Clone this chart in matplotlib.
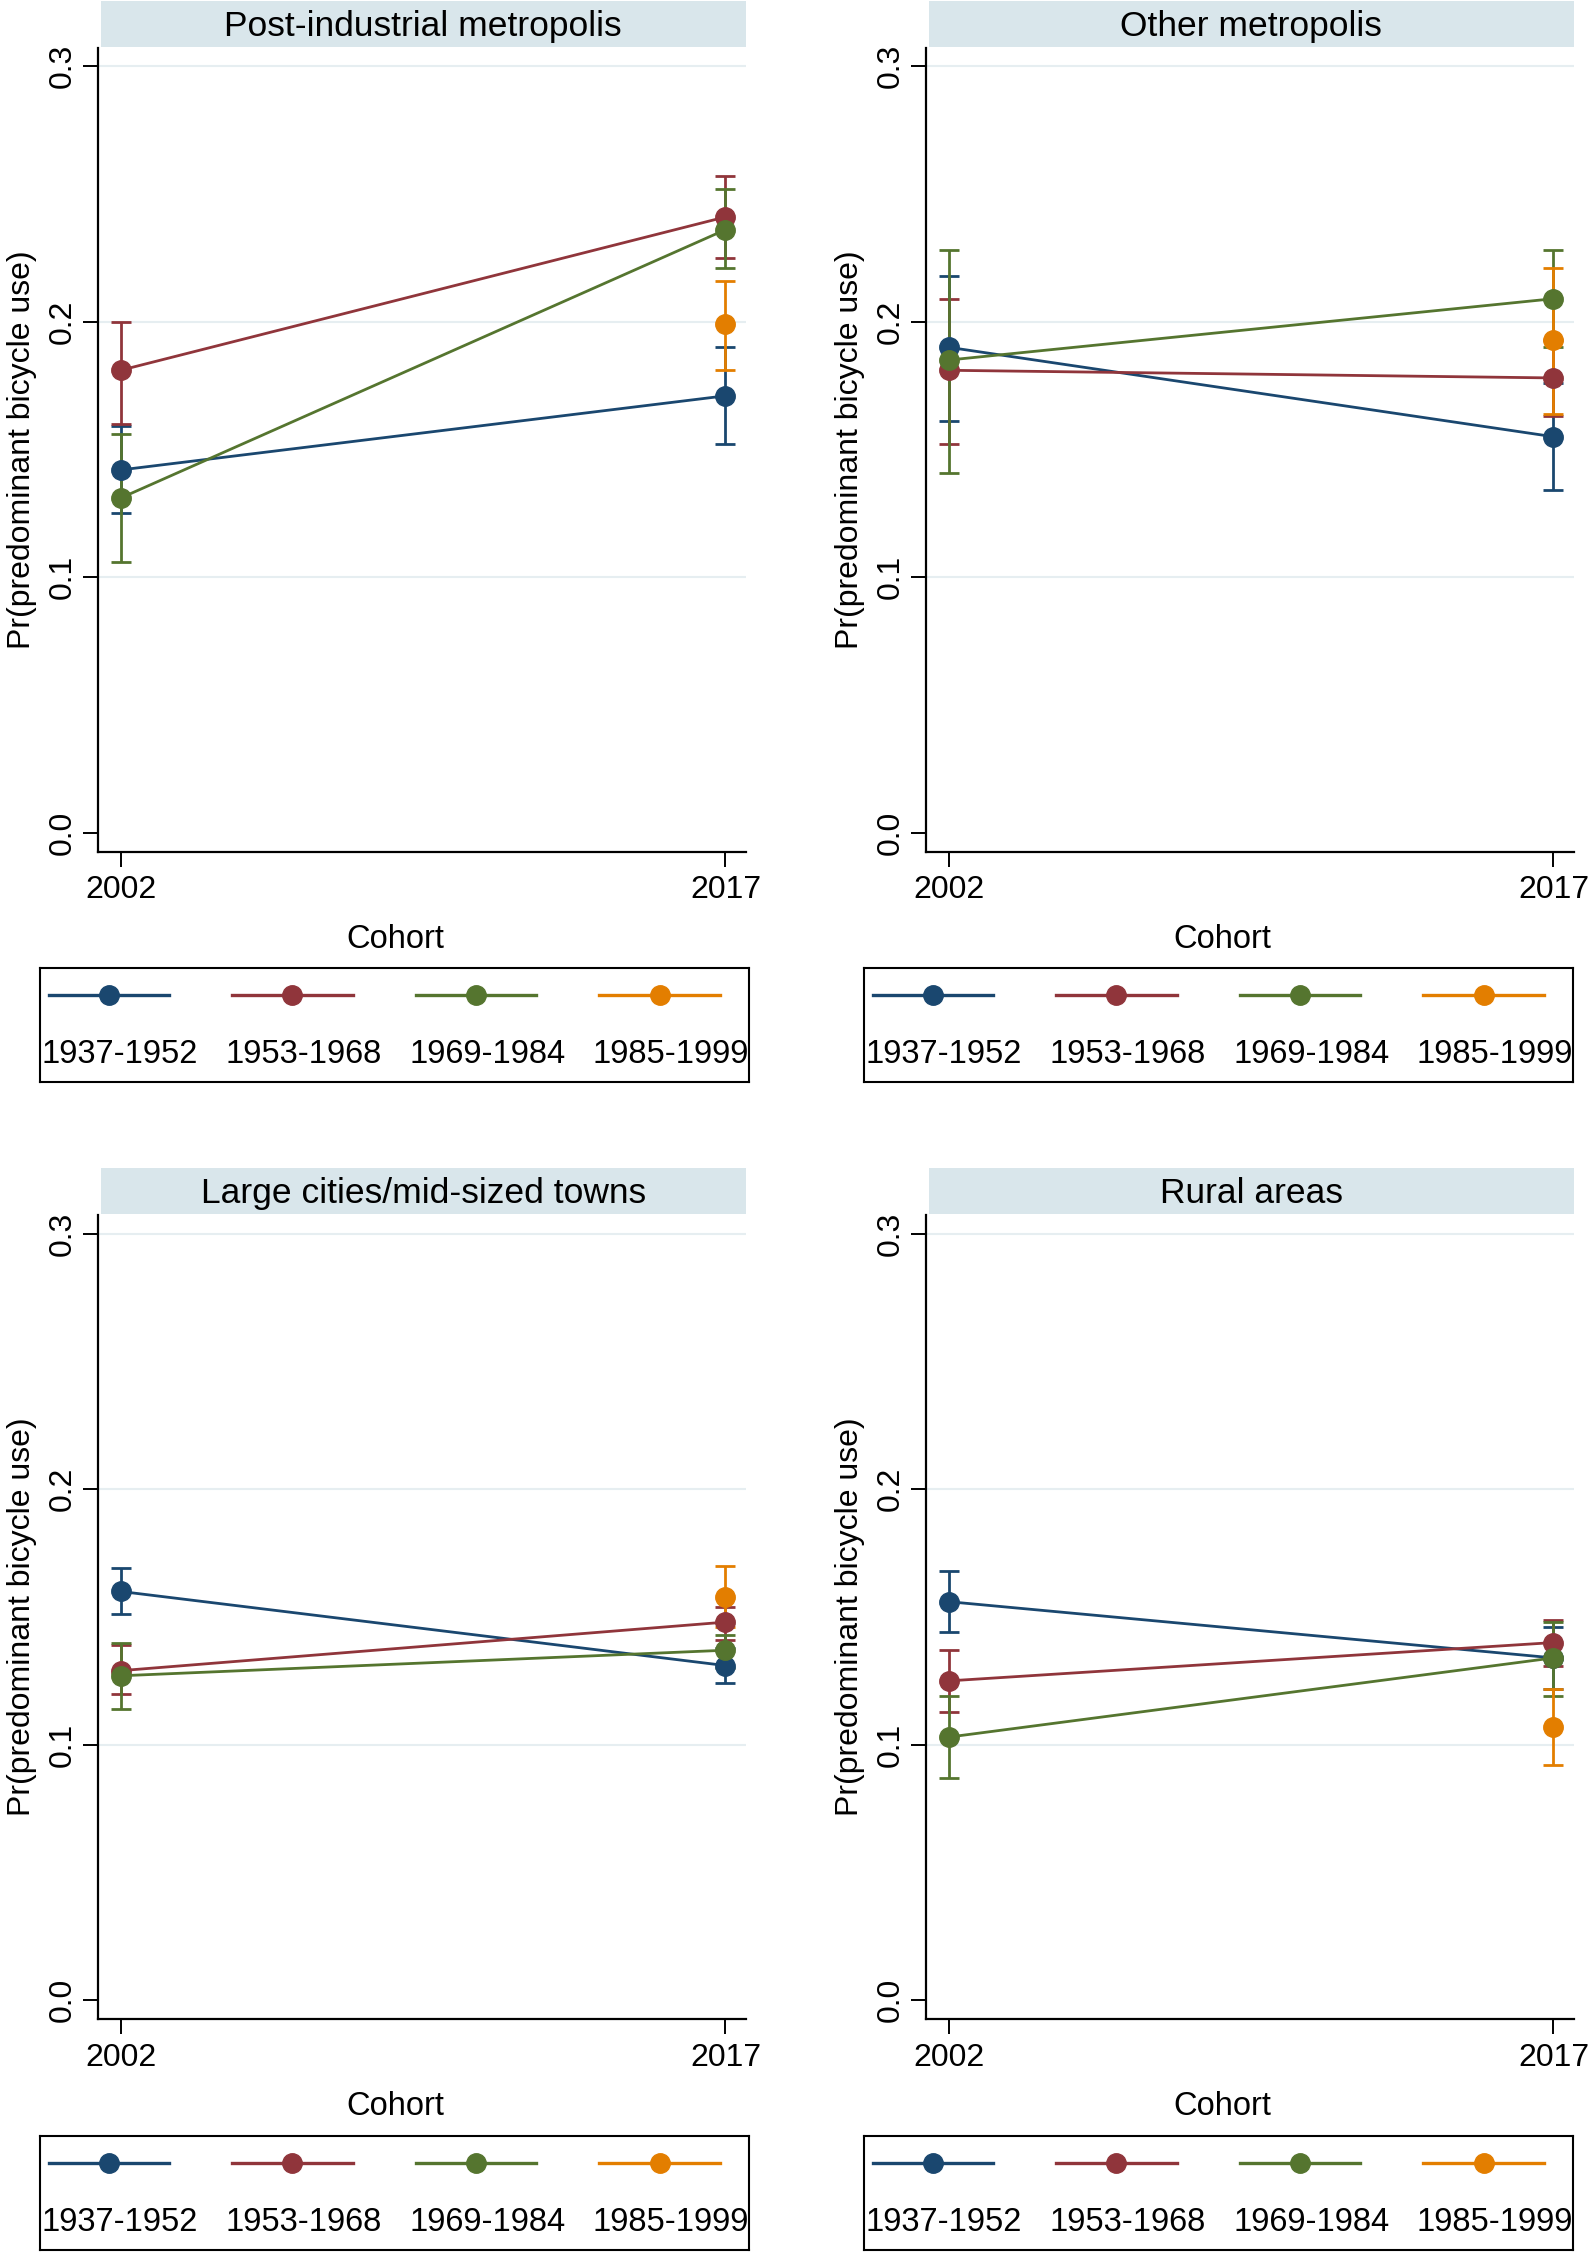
import numpy as np
import matplotlib
matplotlib.use("Agg")
import matplotlib.pyplot as plt

plt.rcParams['font.family'] = ['Liberation Sans', 'DejaVu Sans']

years = [2002, 2017]
cohorts = ["1937-1952", "1953-1968", "1969-1984", "1985-1999"]
colors = ["#1a476f", "#90353b", "#55752f", "#e37e00"]
panels = ["Post-industrial metropolis", "Other metropolis",
          "Large cities/mid-sized towns", "Rural areas"]

# point estimates per panel, per cohort: [2002, 2017] (None = not observed)
est_post = [[0.142, 0.171], [0.181, 0.241], [0.131, 0.236], [None, 0.199]]
lo_post = [[0.125, 0.152], [0.160, 0.225], [0.106, 0.221], [None, 0.181]]
hi_post = [[0.159, 0.190], [0.200, 0.257], [0.156, 0.252], [None, 0.216]]

est_other = [[0.190, 0.155], [0.181, 0.178], [0.185, 0.209], [None, 0.193]]
lo_other = [[0.161, 0.134], [0.152, 0.163], [0.141, 0.190], [None, 0.164]]
hi_other = [[0.218, 0.176], [0.209, 0.193], [0.228, 0.228], [None, 0.221]]

est_large = [[0.160, 0.131], [0.129, 0.148], [0.127, 0.137], [None, 0.158]]
lo_large = [[0.151, 0.124], [0.120, 0.141], [0.114, 0.130], [None, 0.146]]
hi_large = [[0.169, 0.138], [0.139, 0.154], [0.140, 0.143], [None, 0.170]]

est_rural = [[0.156, 0.134], [0.125, 0.140], [0.103, 0.134], [None, 0.107]]
lo_rural = [[0.144, 0.122], [0.113, 0.131], [0.087, 0.119], [None, 0.092]]
hi_rural = [[0.168, 0.146], [0.137, 0.149], [0.119, 0.148], [None, 0.122]]

all_est = [est_post, est_other, est_large, est_rural]
all_lo = [lo_post, lo_other, lo_large, lo_rural]
all_hi = [hi_post, hi_other, hi_large, hi_rural]

W, H = 1593, 2256
fig = plt.figure(figsize=(W / 100, H / 100), dpi=100)

ax_left = [97.6, 925.6]
ax_w = 648
ax_top = [47.5, 1215]
ax_h = 804
leg_left = [40, 864]
leg_w = 709
leg_top = [968, 2136]
leg_h = 114
strip_h = 46
cohort_x = [0.459, 0.458]

for k, name in enumerate(panels):
    r, c = divmod(k, 2)
    x0 = ax_left[c]
    y0 = ax_top[r]
    ax = fig.add_axes([x0 / W, 1 - (y0 + ax_h) / H, ax_w / W, ax_h / H])

    # strip title
    sx = fig.add_axes([(x0 + 3) / W, (H - y0 + 1) / H, (ax_w - 3) / W, strip_h / H])
    sx.set_facecolor("#d9e6eb")
    sx.set_xticks([])
    sx.set_yticks([])
    for s in sx.spines.values():
        s.set_visible(False)
    sx.text(0.5, 0.44, name, ha="center", va="center", fontsize=25.5,
            transform=sx.transAxes)

    est, lo, hi = all_est[k], all_lo[k], all_hi[k]
    for j in range(4):
        xs = [years[i] for i in range(2) if est[j][i] is not None]
        ys = [est[j][i] for i in range(2) if est[j][i] is not None]
        los = [lo[j][i] for i in range(2) if est[j][i] is not None]
        his = [hi[j][i] for i in range(2) if est[j][i] is not None]
        yerr = [np.array(ys) - np.array(los), np.array(his) - np.array(ys)]
        ax.errorbar(xs, ys, yerr=yerr, fmt="none", ecolor=colors[j],
                    elinewidth=2.0, capsize=7, capthick=2.0, zorder=2)
        ax.plot(xs, ys, color=colors[j], lw=2.0, marker="o", markersize=14,
                zorder=3)

    ax.set_xlim(2001.43, 2017.5)
    ax.set_ylim(-0.0073, 0.3073)
    ax.set_xticks(years)
    ax.set_xticklabels([str(y) for y in years], fontsize=23)
    ax.set_yticks([0.0, 0.1, 0.2, 0.3])
    ax.set_yticklabels(["0.0", "0.1", "0.2", "0.3"], fontsize=23, rotation=90,
                       va="center")
    for yv in [0.1, 0.2, 0.3]:
        ax.axhline(yv, color="#e6eef1", lw=1.5, zorder=0)
    ax.tick_params(axis="both", length=11, width=1.4, direction="out")
    ax.tick_params(axis="x", pad=6)
    ax.tick_params(axis="y", pad=3)
    ax.spines["top"].set_visible(False)
    ax.spines["right"].set_visible(False)
    ax.spines["left"].set_linewidth(1.6)
    ax.spines["bottom"].set_linewidth(1.6)
    ax.set_ylabel("Pr(predominant bicycle use)", fontsize=23, labelpad=8)
    ax.set_xlabel("Cohort", fontsize=23.5, labelpad=14)
    ax.xaxis.set_label_coords(cohort_x[c], -0.09)

    # legend box
    lx = fig.add_axes([leg_left[c] / W, 1 - (leg_top[r] + leg_h) / H,
                       leg_w / W, leg_h / H])
    lx.set_xlim(0, 1)
    lx.set_ylim(0, 1)
    lx.set_xticks([])
    lx.set_yticks([])
    for s in lx.spines.values():
        s.set_linewidth(1.5)
    for j, lab in enumerate(cohorts):
        cx = 0.097 + j * 0.259
        lx.plot([cx - 0.085, cx + 0.085], [0.76, 0.76], color=colors[j], lw=2.4)
        lx.plot([cx], [0.76], color=colors[j], marker="o", markersize=14)
        lx.text(cx + 0.016, 0.24, lab, ha="center", va="center", fontsize=23.5)

fig.savefig("out.png", dpi=100, facecolor="white")
